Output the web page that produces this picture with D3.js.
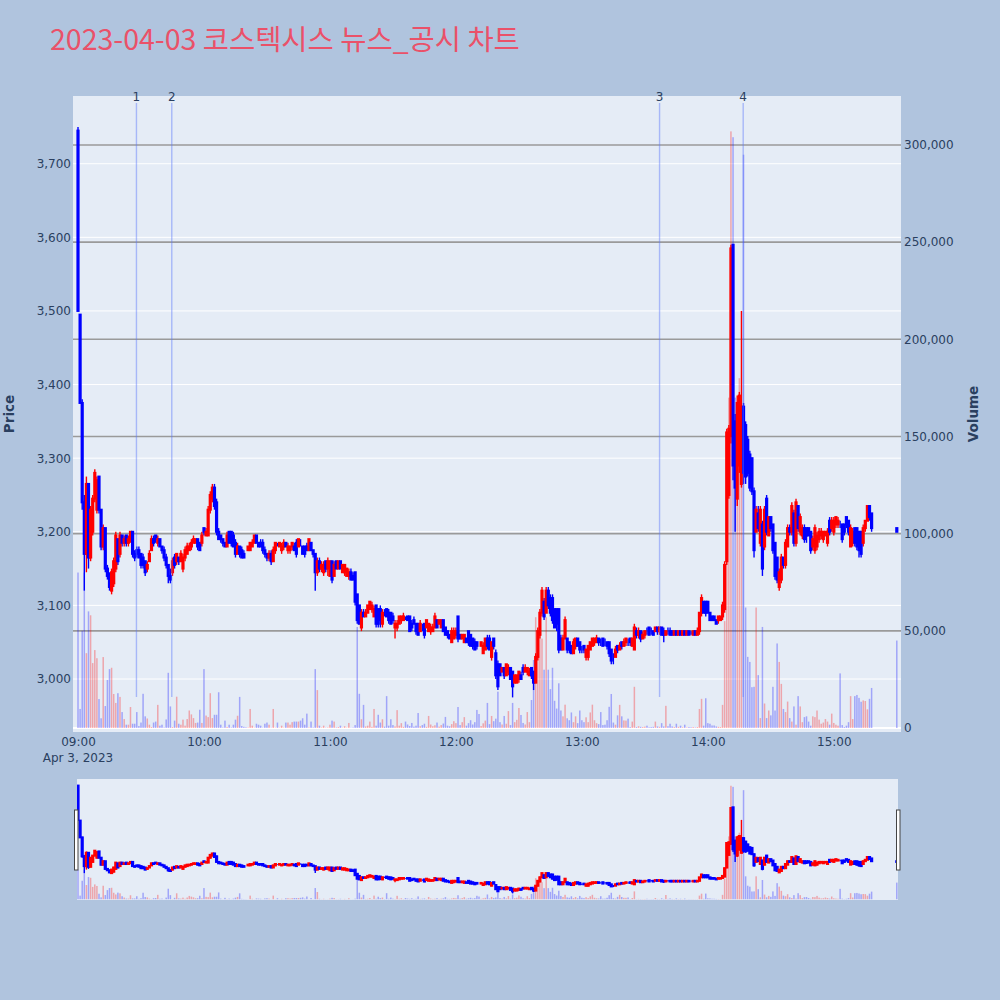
<!DOCTYPE html>
<html>
<head>
<meta charset="utf-8">
<script src="https://cdn.jsdelivr.net/npm/d3@7"></script>
<style>
  body { margin: 0; background: #b0c4de; }
  svg { display: block; font-family: "DejaVu Sans", Verdana, sans-serif; }
</style>
</head>
<body>
<svg id="chart" width="1000" height="1000"></svg>
<script>
// ---- data: one-minute candles [open, high, low, close], index = minute of the hour ----
var ohlc09 = [
  [3745,3750,3500,3500],[3495,3495,3375,3375],[3375,3380,3230,3240],[3240,3250,3120,3170],[3170,3275,3145,3265],
  [3265,3265,3150,3165],[3165,3235,3160,3230],[3200,3250,3195,3245],[3245,3285,3240,3280],[3230,3275,3225,3270],
  [3275,3275,3225,3230],[3230,3230,3175,3180],[3180,3210,3175,3205],[3205,3205,3145,3150],[3150,3155,3135,3140],
  [3140,3145,3120,3125],[3120,3150,3115,3145],[3130,3165,3125,3160],[3150,3200,3145,3195],[3190,3190,3155,3160],
  [3170,3200,3165,3195],[3195,3195,3180,3185],[3185,3195,3180,3190],[3195,3195,3180,3185],[3185,3195,3180,3190],
  [3190,3200,3185,3200],[3200,3200,3165,3170],[3170,3175,3160,3165],[3175,3180,3165,3170],[3175,3180,3165,3165],
  [3170,3170,3150,3155],[3165,3170,3150,3155],[3160,3160,3140,3145],[3150,3160,3145,3155],[3160,3175,3160,3170],
  [3175,3195,3175,3190],[3190,3195,3180,3185],[3195,3195,3185,3190],[3185,3195,3180,3190],[3190,3190,3180,3180],
  [3180,3180,3170,3175],[3175,3180,3160,3165],[3165,3170,3150,3155],[3155,3155,3130,3140],[3140,3150,3130,3135],
  [3145,3165,3140,3160],[3165,3170,3150,3155],[3160,3170,3155,3170],[3165,3165,3155,3160],[3160,3175,3160,3170],
  [3150,3170,3145,3165],[3165,3180,3160,3175],[3170,3185,3170,3180],[3175,3185,3175,3180],[3180,3190,3175,3185],
  [3185,3195,3185,3190],[3185,3190,3185,3190],[3190,3190,3175,3180],[3185,3185,3175,3175],[3185,3200,3180,3195]
];
var ohlc10 = [
  [3205,3205,3195,3200],[3195,3205,3195,3200],[3195,3235,3195,3230],[3230,3255,3225,3250],[3245,3265,3240,3260],
  [3260,3265,3230,3235],[3240,3245,3195,3200],[3200,3205,3190,3190],[3195,3195,3185,3190],[3190,3190,3180,3185],
  [3185,3185,3180,3180],[3180,3200,3180,3195],[3200,3200,3185,3185],[3200,3200,3180,3185],[3195,3200,3180,3180],
  [3185,3190,3165,3170],[3170,3185,3170,3180],[3180,3180,3165,3170],[3175,3180,3165,3165],[3170,3175,3165,3165],
  [3175,3175,3175,3175],[3175,3180,3175,3180],[3175,3185,3175,3185],[3180,3190,3180,3185],[3185,3195,3185,3195],
  [3195,3195,3185,3185],[3185,3185,3180,3180],[3185,3190,3180,3180],[3185,3190,3170,3175],[3175,3180,3165,3170],
  [3170,3170,3160,3165],[3165,3175,3160,3170],[3170,3175,3155,3160],[3160,3180,3160,3175],[3175,3185,3170,3185],
  [3185,3185,3180,3185],[3180,3185,3180,3185],[3175,3185,3170,3180],[3180,3190,3175,3185],[3185,3185,3180,3180],
  [3175,3185,3170,3180],[3175,3180,3170,3180],[3180,3185,3175,3185],[3180,3185,3175,3175],[3185,3190,3165,3170],
  [3180,3190,3180,3190],[3185,3190,3180,3185],[3180,3180,3170,3170],[3180,3180,3165,3170],[3180,3185,3175,3175],
  [3175,3190,3175,3190],[3185,3185,3175,3175],[3175,3175,3165,3170],[3170,3170,3120,3145],[3145,3165,3140,3160],
  [3160,3165,3145,3150],[3150,3160,3145,3155],[3145,3160,3140,3155],[3160,3160,3145,3150],[3150,3165,3140,3160]
];
var ohlc11 = [
  [3140,3160,3140,3160],[3160,3160,3130,3135],[3140,3160,3140,3155],[3160,3160,3150,3150],[3150,3160,3150,3160],
  [3160,3160,3150,3150],[3145,3155,3145,3155],[3145,3155,3140,3155],[3140,3150,3140,3150],[3140,3150,3135,3145],
  [3145,3150,3135,3135],[3140,3145,3135,3135],[3145,3145,3100,3105],[3115,3115,3075,3080],[3100,3100,3075,3075],
  [3070,3095,3065,3090],[3090,3095,3085,3085],[3085,3095,3085,3090],[3090,3100,3090,3100],[3095,3105,3095,3105],
  [3095,3105,3090,3100],[3085,3100,3085,3095],[3100,3100,3070,3075],[3095,3095,3070,3075],[3095,3100,3070,3080],
  [3075,3095,3070,3090],[3090,3095,3085,3090],[3095,3095,3085,3085],[3090,3095,3075,3080],[3090,3090,3075,3075],
  [3085,3090,3075,3080],[3070,3080,3055,3075],[3070,3080,3065,3075],[3075,3085,3075,3085],[3080,3085,3075,3085],
  [3080,3090,3080,3085],[3080,3085,3080,3080],[3085,3085,3080,3080],[3085,3085,3065,3065],[3075,3080,3065,3070],
  [3080,3085,3075,3075],[3075,3075,3060,3065],[3075,3075,3060,3060],[3065,3080,3065,3075],[3070,3075,3065,3070],
  [3075,3075,3055,3060],[3070,3080,3070,3080],[3065,3075,3065,3075],[3065,3075,3060,3070],[3065,3075,3065,3070],
  [3070,3090,3070,3085],[3080,3080,3070,3070],[3075,3080,3075,3080],[3070,3080,3070,3080],[3080,3080,3065,3065],
  [3070,3070,3060,3060],[3065,3065,3055,3060],[3060,3060,3055,3055],[3050,3070,3050,3065],[3055,3070,3055,3065]
];
var ohlc12 = [
  [3060,3070,3055,3065],[3085,3085,3050,3055],[3060,3060,3055,3055],[3055,3060,3055,3060],[3050,3060,3050,3060],
  [3055,3055,3050,3050],[3065,3065,3045,3050],[3060,3060,3045,3045],[3055,3055,3040,3045],[3050,3055,3040,3040],
  [3050,3050,3040,3045],[3045,3045,3045,3045],[3045,3050,3045,3050],[3035,3050,3035,3045],[3040,3055,3040,3055],
  [3055,3060,3040,3045],[3055,3060,3040,3040],[3030,3050,3025,3050],[3055,3055,3040,3045],[3035,3040,3000,3005],
  [3020,3025,2985,2990],[3020,3020,3005,3005],[3010,3015,3010,3015],[3015,3015,3000,3005],[3005,3020,3005,3020],
  [3010,3020,3005,3015],[3015,3015,3000,3000],[3010,3010,2975,2990],[2995,3005,2995,3005],[2995,3005,2995,3005],
  [3000,3010,2995,3010],[3005,3010,3000,3000],[3015,3020,3005,3010],[3010,3020,3010,3015],[3010,3015,3005,3015],
  [3005,3015,3005,3010],[3015,3015,3000,3005],[3010,3010,2985,2995],[2995,3035,2995,3030],[3030,3070,3025,3065],
  [3060,3095,3055,3090],[3090,3125,3085,3120],[3105,3110,3080,3085],[3090,3125,3090,3120],[3120,3125,3095,3100],
  [3110,3115,3085,3090],[3110,3115,3075,3080],[3095,3095,3070,3070],[3095,3095,3065,3075],[3095,3095,3035,3040],
  [3055,3060,3040,3040],[3040,3060,3040,3055],[3055,3085,3055,3080],[3055,3055,3035,3040],[3050,3050,3035,3040],
  [3045,3045,3035,3035],[3035,3055,3035,3050],[3045,3055,3040,3055],[3055,3055,3045,3045],[3050,3050,3035,3040]
];
var ohlc13 = [
  [3040,3045,3035,3040],[3045,3045,3035,3040],[3030,3040,3025,3040],[3030,3045,3025,3045],[3040,3050,3040,3050],
  [3045,3055,3045,3055],[3050,3055,3045,3055],[3050,3060,3050,3055],[3055,3055,3045,3050],[3050,3055,3045,3050],
  [3055,3055,3045,3045],[3050,3055,3045,3050],[3050,3050,3040,3045],[3050,3050,3030,3035],[3040,3040,3020,3025],
  [3030,3035,3020,3030],[3030,3045,3030,3040],[3045,3045,3035,3040],[3040,3050,3040,3045],[3050,3050,3040,3045],
  [3045,3055,3045,3050],[3050,3055,3045,3055],[3050,3055,3045,3050],[3055,3055,3045,3050],[3045,3055,3045,3055],
  [3040,3075,3040,3070],[3065,3070,3055,3060],[3060,3070,3055,3065],[3065,3065,3050,3055],[3055,3065,3055,3060],
  [3060,3065,3055,3065],[3065,3070,3060,3065],[3070,3070,3060,3060],[3065,3070,3060,3065],[3065,3065,3060,3060],
  [3065,3070,3065,3070],[3070,3070,3060,3065],[3065,3070,3060,3070],[3070,3070,3060,3060],[3065,3070,3050,3060],
  [3060,3065,3060,3065],[3065,3070,3060,3065],[3065,3070,3060,3060],[3065,3065,3060,3060],[3060,3065,3060,3065],
  [3065,3065,3060,3060],[3060,3065,3060,3065],[3065,3065,3060,3060],[3060,3065,3060,3065],[3065,3065,3060,3060],
  [3060,3065,3060,3065],[3065,3065,3060,3060],[3060,3065,3060,3060],[3060,3065,3060,3065],[3065,3065,3060,3060],
  [3060,3070,3060,3065],[3065,3090,3060,3090],[3090,3115,3085,3110],[3105,3105,3090,3090],[3105,3105,3085,3090]
];
var ohlc14 = [
  [3105,3105,3090,3090],[3090,3090,3080,3080],[3085,3085,3080,3080],[3085,3085,3080,3080],[3080,3080,3075,3075],
  [3080,3085,3075,3085],[3080,3085,3080,3085],[3085,3105,3080,3100],[3095,3160,3090,3155],[3160,3340,3155,3335],
  [3250,3345,3245,3340],[3330,3590,3320,3585],[3590,3590,3270,3290],[3350,3360,3200,3260],[3245,3385,3235,3375],
  [3290,3390,3280,3385],[3265,3500,3260,3370],[3370,3375,3265,3280],[3345,3350,3265,3275],[3325,3330,3275,3280],
  [3305,3310,3255,3260],[3300,3300,3250,3255],[3255,3260,3165,3175],[3200,3235,3200,3230],[3225,3235,3200,3205],
  [3185,3235,3180,3230],[3210,3215,3140,3150],[3180,3235,3175,3230],[3245,3250,3195,3200],[3195,3220,3195,3220],
  [3220,3220,3200,3205],[3210,3210,3170,3175],[3185,3185,3135,3140],[3165,3165,3130,3135],[3125,3150,3120,3145],
  [3135,3170,3130,3165],[3165,3165,3150,3155],[3155,3190,3150,3185],[3180,3210,3180,3205],[3205,3210,3195,3200],
  [3200,3240,3195,3235],[3225,3230,3180,3185],[3185,3245,3180,3240],[3235,3235,3200,3205],[3200,3225,3195,3220],
  [3195,3210,3190,3205],[3205,3210,3185,3190],[3205,3205,3185,3195],[3205,3205,3195,3195],[3200,3200,3170,3175],
  [3180,3195,3175,3190],[3175,3210,3170,3205],[3180,3200,3175,3195],[3190,3205,3185,3200],[3195,3205,3190,3200],
  [3190,3200,3185,3200],[3195,3200,3195,3200],[3185,3205,3180,3200],[3215,3220,3195,3200],[3205,3220,3200,3215]
];
var ohlc15 = [
  [3200,3220,3195,3215],[3210,3220,3205,3220],[3210,3220,3205,3215],[3210,3215,3205,3210],[3210,3210,3185,3190],
  [3210,3210,3195,3200],[3220,3220,3205,3210],[3215,3215,3195,3200],[3180,3210,3180,3205],[3185,3205,3180,3200],
  [3205,3205,3180,3185],[3205,3205,3175,3180],[3200,3200,3165,3175],[3200,3200,3165,3170],[3185,3210,3180,3205],
  [3205,3215,3200,3215],[3215,3235,3215,3235],[3235,3235,3215,3220],[3225,3225,3200,3205],
  null,null,null,null,null,null,null,null,null,null,null,
  [3205,3205,3200,3200]
];

// ---- data: one-minute volume, same minute index ----
var vol09 = [80000,9800,50000,80000,38500,60000,58000,33400,40100,35900,
  14900,5000,36500,11300,24700,30300,31000,17500,12900,17900,
  16000,8200,4600,1700,1700,10800,2200,2200,8200,1000,
  2800,17600,6000,4900,1700,500,2800,3300,11900,1200,
  1700,300,4400,28400,11100,500,3800,16100,2200,1700,
  4300,1200,4600,9000,7000,5100,2600,2800,9400,2600];
var vol10 = [30300,6400,5600,17900,5100,6800,6800,18400,1700,300,
  3800,500,1700,300,1700,4300,6300,16000,1000,600,
  400,300,9800,1200,200,2200,1700,1200,200,2200,
  2800,1700,200,9800,200,2800,200,1200,200,2800,
  2800,1700,3000,3300,3300,3300,3800,5000,1700,7400,
  300,3300,300,30300,19500,1200,300,1200,200,300];
var vol11 = [1700,3800,3300,300,500,1200,200,900,200,2600,
  200,300,1500,52000,17600,4500,11900,800,1200,3300,
  600,9800,1200,6800,2800,4500,700,16400,1200,4500,
  1500,800,9200,1200,2500,600,3300,1800,1000,2600,
  700,1200,7700,900,1500,2200,600,6200,1800,900,
  1400,2800,700,1500,2300,5700,1200,900,2000,3500];
var vol12 = [2500,10800,1500,3000,5600,1200,2500,4000,1800,3000,
  9300,7200,1000,2400,3800,12900,2000,6200,3500,4800,
  18700,3000,1800,6200,2200,8700,1500,12900,3000,4200,
  10300,6700,2600,1800,8200,3000,14400,35000,57000,45000,
  57000,46000,30000,57000,30000,20000,31000,14000,10000,23000,
  9000,6000,12000,5000,4000,8000,3000,6000,2500,9000];
var vol13 = [4000,3000,5500,3000,8000,12000,4000,2500,2000,8200,
  1500,1700,4000,10900,17500,2800,1700,6500,11900,6000,
  3900,3800,4800,500,3300,21200,500,900,600,500,
  700,1200,400,500,600,3300,800,600,2500,800,
  11400,900,2200,800,500,2200,600,1200,400,1700,
  300,500,400,500,300,500,9800,15000,1200,15300];
var vol14 = [2500,2200,1300,1300,800,600,500,11900,55000,150000,
  170000,307000,304000,170000,160000,180000,150000,295000,62000,36600,
  34000,21000,21200,62000,27200,5100,52000,12600,5100,9000,
  6500,21200,9000,43500,34000,22700,9800,8200,13600,5100,
  3300,11100,1700,16400,11100,3000,5600,6000,3300,1200,
  6000,5600,9000,4300,2200,2800,4600,3300,1700,7400];
var vol15 = [2600,1700,1200,28100,1500,500,1200,3000,16400,4600,
  16400,17000,15500,13500,14200,13900,9600,15000,20600,
  null,null,null,null,null,null,null,null,null,null,null,
  45000];

var hourStarts = [9, 10, 11, 12, 13, 14, 15];
var priceTicks = [3000, 3100, 3200, 3300, 3400, 3500, 3600, 3700];
var volumeTicks = [0, 50000, 100000, 150000, 200000, 250000, 300000];
var timeTicks = ["09:00", "10:00", "11:00", "12:00", "13:00", "14:00", "15:00"];
var newsTimes = ["09:27:50", "09:44:40", "13:37:00", "14:16:50"];
var newsLabels = ["1", "2", "3", "4"];

// helper: clock string to a Date on the trading day
function at(s) {
  var p = s.split(":");
  return new Date(2023, 3, 3, +p[0], +p[1], +(p[2] || 0));
}

// build the rows
var candleSets = [ohlc09, ohlc10, ohlc11, ohlc12, ohlc13, ohlc14, ohlc15];
var volumeSets = [vol09, vol10, vol11, vol12, vol13, vol14, vol15];
var rows = [];
hourStarts.forEach(function(h, k) {
  candleSets[k].forEach(function(c, i) {
    if (!c) return;
    rows.push({ t: new Date(2023, 3, 3, h, i), o: c[0], h: c[1], l: c[2], c: c[3], v: volumeSets[k][i] });
  });
});

var UP = "#ff0000", DOWN = "#0000ff", TXT = "#2a3f5f";
function col(d) { return d.c > d.o ? UP : DOWN; }

var svg = d3.select("#chart");

// plot area
var plot = { left: 73, right: 901, top: 96, bottom: 732 };

var x = d3.scaleTime()
  .domain([new Date(2023, 3, 3, 8, 57, 37), new Date(2023, 3, 3, 15, 32, 0)])
  .range([plot.left, plot.right]);
var yP = d3.scaleLinear().domain([2928, 3792]).range([plot.bottom, plot.top]);
var yV = d3.scaleLinear().domain([-2060, 325200]).range([plot.bottom, plot.top]);

// title
svg.append("text")
  .attr("x", 50).attr("y", 50)
  .attr("font-family", "'Noto Sans CJK KR', sans-serif")
  .attr("font-size", 28.5)
  .attr("fill", "#ea5169")
  .text("2023-04-03 코스텍시스 뉴스_공시 차트");

svg.append("rect")
  .attr("x", plot.left).attr("y", plot.top)
  .attr("width", plot.right - plot.left).attr("height", plot.bottom - plot.top)
  .attr("fill", "#e5ecf6");

svg.append("clipPath").attr("id", "clipMain")
  .append("rect")
  .attr("x", plot.left).attr("y", plot.top)
  .attr("width", plot.right - plot.left).attr("height", plot.bottom - plot.top);

// grid: price (white), volume (grey)
var grid = svg.append("g");
grid.selectAll("line.pg").data(priceTicks).join("line").attr("class", "pg")
  .attr("x1", plot.left).attr("x2", plot.right)
  .attr("y1", d => yP(d)).attr("y2", d => yP(d))
  .attr("stroke", "#ffffff").attr("stroke-width", 1);
grid.selectAll("line.vg").data(volumeTicks.filter(d => d > 0)).join("line").attr("class", "vg")
  .attr("x1", plot.left).attr("x2", plot.right)
  .attr("y1", d => yV(d)).attr("y2", d => yV(d))
  .attr("stroke", "#9a9a9a").attr("stroke-width", 1.6);
grid.append("line")
  .attr("x1", plot.left).attr("x2", plot.right)
  .attr("y1", yV(0)).attr("y2", yV(0))
  .attr("stroke", "#ffffff").attr("stroke-width", 2);

// candles + volume bars
function drawTrades(g, xs, ys, yv) {
  g.selectAll("line.wick").data(rows).join("line").attr("class", "wick")
    .attr("x1", d => xs(d.t)).attr("x2", d => xs(d.t))
    .attr("y1", d => ys(d.h)).attr("y2", d => ys(d.l))
    .attr("stroke", col).attr("stroke-width", 1.4);
  g.selectAll("rect.body").data(rows).join("rect").attr("class", "body")
    .attr("x", d => xs(d.t) - 0.6).attr("width", 1.2)
    .attr("y", d => ys(Math.max(d.o, d.c)))
    .attr("height", d => Math.abs(ys(d.o) - ys(d.c)))
    .attr("fill", col).attr("stroke", col).attr("stroke-width", 2);
  g.selectAll("rect.vol").data(rows).join("rect").attr("class", "vol")
    .attr("x", d => xs(d.t) - 0.75).attr("width", 1.5)
    .attr("y", d => yv(d.v))
    .attr("height", d => yv(0) - yv(d.v))
    .attr("fill", col).attr("fill-opacity", 0.3);
}

var main = svg.append("g").attr("clip-path", "url(#clipMain)");
drawTrades(main, x, yP, yV);

// news markers
var news = svg.append("g");
news.selectAll("line").data(newsTimes).join("line")
  .attr("x1", d => x(at(d))).attr("x2", d => x(at(d)))
  .attr("y1", 103).attr("y2", 697)
  .attr("stroke", "rgb(90,120,250)").attr("stroke-opacity", 0.45).attr("stroke-width", 1.4);
news.selectAll("text").data(newsTimes).join("text")
  .attr("x", d => x(at(d))).attr("y", 100.5)
  .attr("text-anchor", "middle").attr("font-size", 12).attr("fill", TXT)
  .text((d, i) => newsLabels[i]);

// axes
var leftAxis = svg.append("g")
  .attr("transform", `translate(${plot.left},0)`)
  .call(d3.axisLeft(yP).tickValues(priceTicks).tickSize(0).tickPadding(2).tickFormat(d3.format(",")));
var rightAxis = svg.append("g")
  .attr("transform", `translate(${plot.right},0)`)
  .call(d3.axisRight(yV).tickValues(volumeTicks).tickSize(0).tickPadding(3).tickFormat(d3.format(",")));
var bottomAxis = svg.append("g")
  .attr("transform", `translate(0,${plot.bottom})`)
  .call(d3.axisBottom(x).tickValues(timeTicks.map(at)).tickSize(0).tickPadding(5.5).tickFormat(d3.timeFormat("%H:%M")));
[leftAxis, rightAxis, bottomAxis].forEach(function(a) {
  a.select(".domain").remove();
  a.selectAll("text").attr("font-size", 12).attr("fill", TXT).attr("font-family", "'DejaVu Sans', sans-serif");
});

svg.append("text")
  .attr("x", x(at("09:00"))).attr("y", 762)
  .attr("text-anchor", "middle").attr("font-size", 12).attr("fill", TXT)
  .text("Apr 3, 2023");

svg.append("text")
  .attr("transform", "translate(14,414) rotate(-90)")
  .attr("text-anchor", "middle").attr("font-size", 13.5).attr("font-weight", "bold").attr("fill", TXT)
  .text("Price");
svg.append("text")
  .attr("transform", "translate(978,414) rotate(-90)")
  .attr("text-anchor", "middle").attr("font-size", 13.5).attr("font-weight", "bold").attr("fill", TXT)
  .text("Volume");

// range slider
var slider = { left: 77, right: 898, top: 779, bottom: 900 };
var yS = d3.scaleLinear().domain([2928, 3792]).range([slider.bottom, slider.top]);
var vS = d3.scaleLinear().domain([-2060, 325200]).range([slider.bottom, slider.top]);

svg.append("rect")
  .attr("x", slider.left).attr("y", slider.top)
  .attr("width", slider.right - slider.left).attr("height", slider.bottom - slider.top)
  .attr("fill", "#e5ecf6");
svg.append("clipPath").attr("id", "clipSlider")
  .append("rect")
  .attr("x", slider.left).attr("y", slider.top)
  .attr("width", slider.right - slider.left).attr("height", slider.bottom - slider.top);
var mini = svg.append("g").attr("clip-path", "url(#clipSlider)");
drawTrades(mini, x, yS, vS);

svg.selectAll("rect.handle").data([74.5, 896.5]).join("rect").attr("class", "handle")
  .attr("x", d => d).attr("y", 810).attr("width", 3.5).attr("height", 60)
  .attr("fill", "#ffffff").attr("stroke", "#444444").attr("stroke-width", 1);
</script>
</body>
</html>
